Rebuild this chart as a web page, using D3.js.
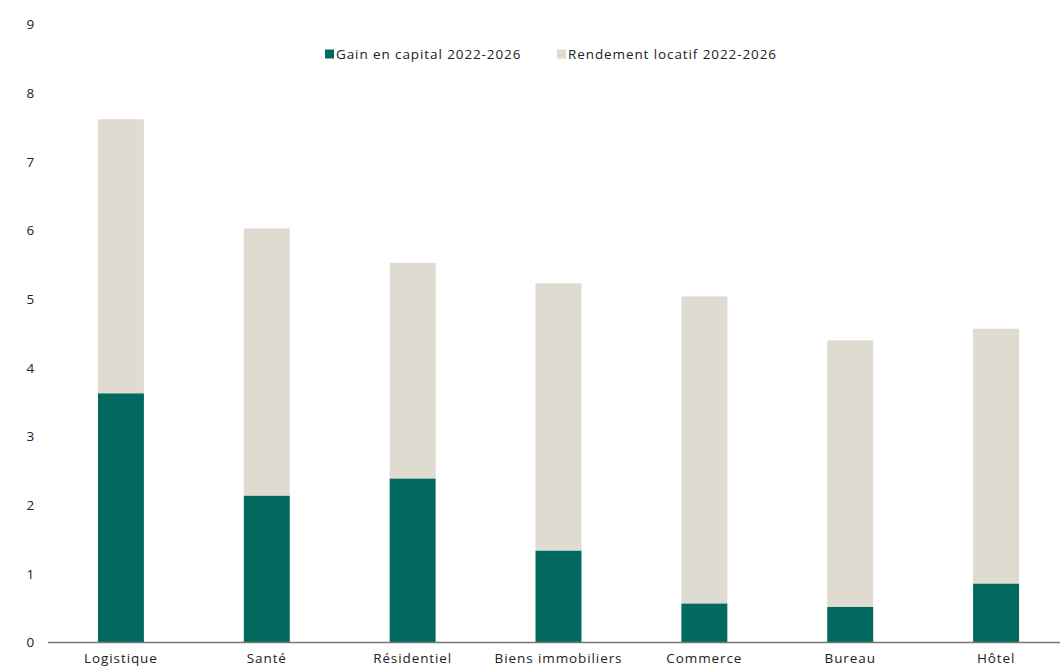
<!DOCTYPE html>
<html>
<head>
<meta charset="utf-8">
<script src="https://cdn.jsdelivr.net/npm/d3@7"></script>
<style>
	body { margin: 0; background: #fff; }
	text { font-family: "Open Sans", "Noto Sans", sans-serif; fill: #222; letter-spacing: 0.9px; }
</style>
</head>
<body>
<div id="chart"></div>
<script>
var categories = ["Logistique", "Santé", "Résidentiel", "Biens immobiliers", "Commerce", "Bureau", "Hôtel"];
var gainCapital = [3.63, 2.14, 2.39, 1.34, 0.57, 0.52, 0.86];
var rendementLocatif = [3.99, 3.89, 3.14, 3.89, 4.47, 3.88, 3.71];
var yTicks = [0, 1, 2, 3, 4, 5, 6, 7, 8, 9];
var seriesNames = ["Gain en capital 2022-2026", "Rendement locatif 2022-2026"];
var colors = ["#02695e", "#dfdbd1"];

var width = 1060;
var height = 666;

var svg = d3
	.select("#chart")
	.append("svg")
	.attr("width", width)
	.attr("height", height);

var x = d3
	.scaleBand()
	.domain(categories)
	.range([48, 1069])
	.paddingInner(0.685)
	.paddingOuter(0.3425);

var y = d3.scaleLinear().domain([0, 9]).range([642.5, 24.5]);

var data = categories.map((c, i) => ({
	cat: c,
	gain: gainCapital[i],
	rend: rendementLocatif[i],
}));

var stack = d3.stack().keys(["gain", "rend"])(data);

svg
	.append("g")
	.selectAll("g")
	.data(stack)
	.enter()
	.append("g")
	.attr("fill", (d, i) => colors[i])
	.selectAll("rect")
	.data((d) => d)
	.enter()
	.append("rect")
	.attr("x", (d) => x(d.data.cat))
	.attr("width", x.bandwidth())
	.attr("y", (d) => y(d[1]))
	.attr("height", (d) => y(d[0]) - y(d[1]));

// y axis: labels only
var yAxis = svg
	.append("g")
	.attr("transform", "translate(35,0)")
	.call(d3.axisLeft(y).tickValues(yTicks).tickSize(0).tickPadding(0));
yAxis.select(".domain").remove();
yAxis.selectAll("text").style("font-size", "13.5px").style("fill", "#222");

// x axis
var xAxis = svg
	.append("g")
	.attr("transform", "translate(0,642.5)")
	.call(d3.axisBottom(x).tickSize(0).tickPadding(11));
xAxis.select(".domain").remove();
xAxis.selectAll("text").style("font-size", "13.5px").style("fill", "#222");
svg
	.append("line")
	.attr("x1", 48)
	.attr("x2", width)
	.attr("y1", 642.5)
	.attr("y2", 642.5)
	.attr("stroke", "#777")
	.attr("stroke-width", 1.5);

// legend
var legendX = [325, 557];
var legend = svg
	.append("g")
	.selectAll("g")
	.data(seriesNames)
	.enter()
	.append("g")
	.attr("transform", (d, i) => `translate(${legendX[i]},54)`);
legend
	.append("rect")
	.attr("x", 0)
	.attr("y", -4.5)
	.attr("width", 9)
	.attr("height", 9)
	.attr("fill", (d, i) => colors[i]);
legend
	.append("text")
	.attr("x", 11)
	.attr("dy", "0.35em")
	.style("font-size", "13.5px")
	.text((d) => d);
</script>
</body>
</html>
